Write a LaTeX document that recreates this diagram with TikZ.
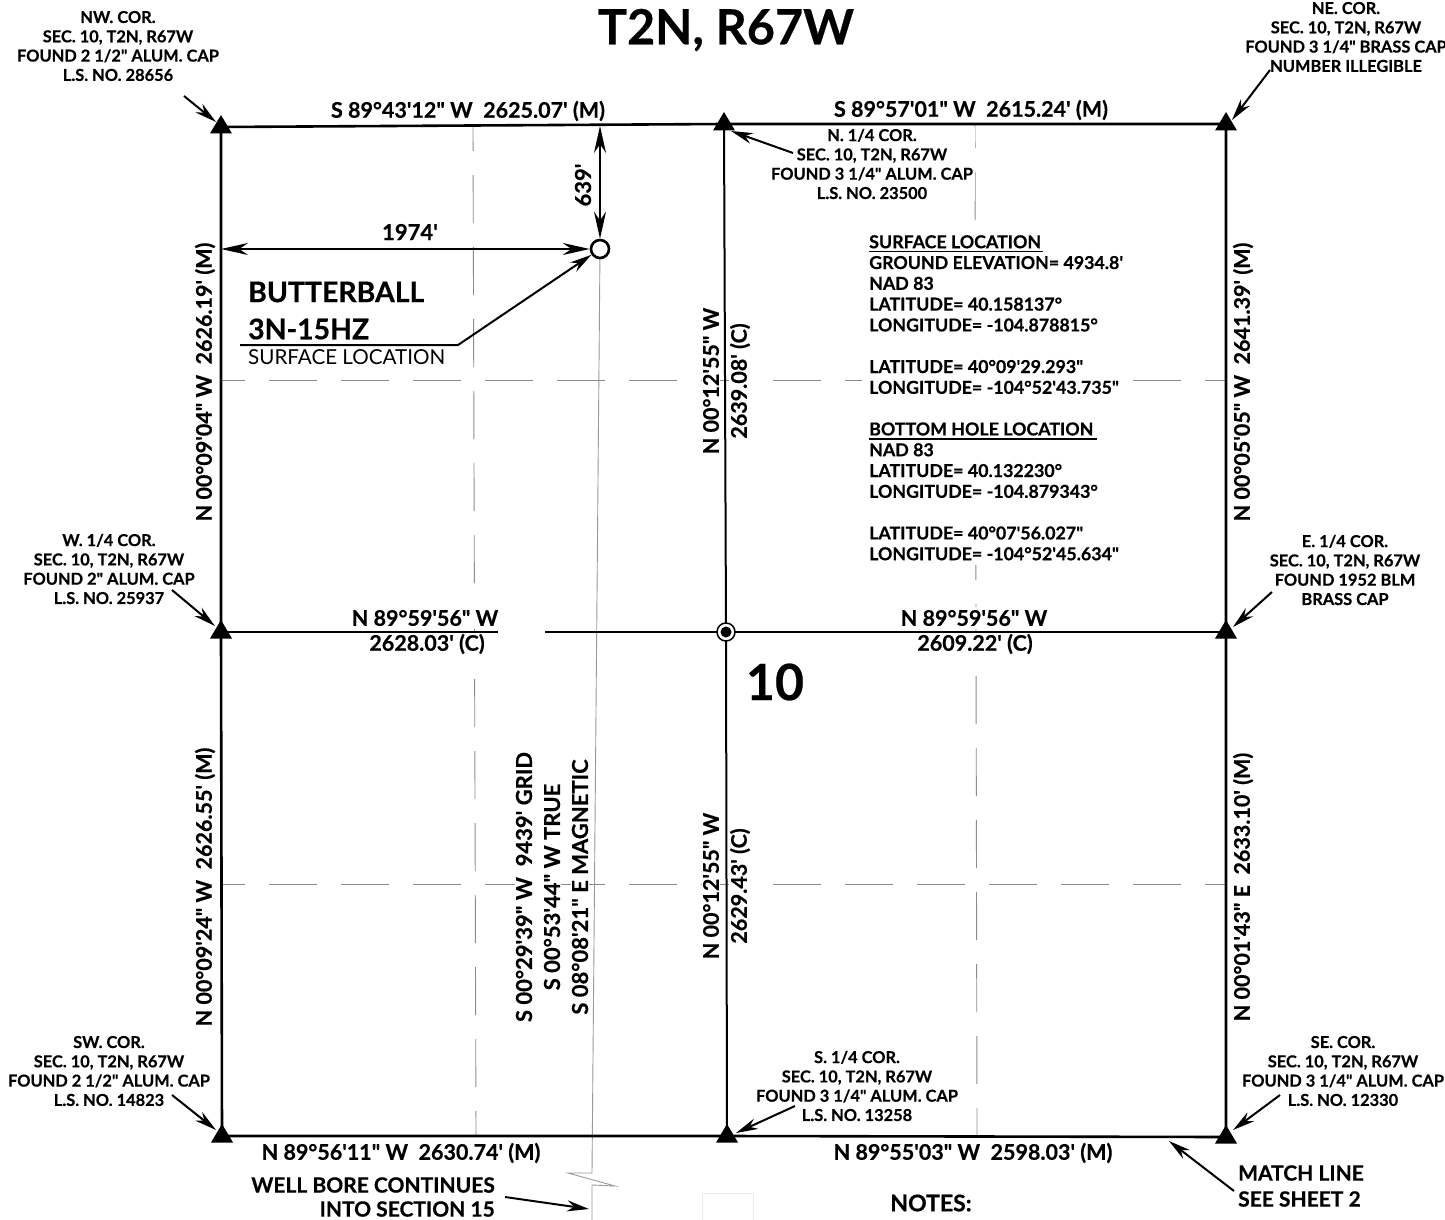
\documentclass[tikz,border=0pt]{standalone}
\usepackage{fontspec}
\usetikzlibrary{arrows.meta,calc}
\newfontfamily\labf{Lato}[BoldFont={Lato Bold},BoldFeatures={FakeBold=0.45}]
\tikzset{
  base/.style={inner sep=1pt,font=\labf\bfseries},
  corner/.style={base,align=center,fill=white,inner sep=2pt,font=\labf\bfseries\fontsize{16.4}{19.3}\selectfont},
  bearing/.style={base,fill=white,font=\labf\bfseries\fontsize{21.5}{24}\selectfont},
  big/.style={base,font=\labf\bfseries\fontsize{28.4}{30}\selectfont},
  mid/.style={base,font=\labf\bfseries\fontsize{21}{24}\selectfont},
  grayd/.style={draw=black!45,line width=.9pt,dash pattern=on 48pt off 24pt,dash phase=24pt},
  bore/.style={draw=black!40,line width=.9pt},
  boundary/.style={draw=black,line width=2.6pt},
  centerl/.style={draw=black,line width=2pt},
  leader/.style={draw=black,line width=2pt,-{Stealth[length=22pt,width=11pt]}},
  dim/.style={draw=black,line width=2pt,{Stealth[length=27pt,width=12pt]}-{Stealth[length=27pt,width=12pt]}},
  tri/.style={fill=black,draw=none},
}
\newcommand{\mon}[1]{\fill[tri] ($(#1)+(-11,6.5)$) -- ($(#1)+(11,6.5)$) -- ($(#1)+(0,-12)$) -- cycle;}
\begin{document}
\begin{tikzpicture}[x=1pt,y=-1pt]
\useasboundingbox (0,0) rectangle (1445,1220);
\fill[white] (0,0) rectangle (1445,1220);
% corners
\coordinate (nw) at (221,127); \coordinate (n) at (724,124); \coordinate (ne) at (1226,124);
\coordinate (w) at (221,632); \coordinate (c) at (726,632); \coordinate (e) at (1226,632);
\coordinate (sw) at (222,1136); \coordinate (s) at (727,1136); \coordinate (se) at (1226,1137);
% section subdivision lines
\coordinate (qnw) at (473,127); \coordinate (qsw) at (476,1136);
\coordinate (qne) at (975,124); \coordinate (qse) at (977,1137);
\coordinate (h1a) at (221,380); \coordinate (h1b) at (1226,380);
\coordinate (h2a) at (221,884); \coordinate (h2b) at (1226,884);
\draw[grayd] (qnw) -- (qsw);
\draw[grayd] (qne) -- (qse);
\draw[grayd] (h1a) -- (h1b);
\draw[grayd] (h2a) -- (h2b);
% well bore
\coordinate (wb) at (600,249);
\coordinate (z1) at (592,1173); \coordinate (z2) at (568,1173); \coordinate (z3) at (615,1186);
\coordinate (z4) at (592,1185); \coordinate (z5) at (592,1220);
\draw[bore] (wb) -- (z1) -- (z2) -- (z3) -- (z4) -- (z5);
% faint sheet box
\draw[black!8,line width=.6pt] (702,1220) |- (753,1193) -- (753,1220);
% labels
\node[bearing,inner sep=3pt] (tn) at (425,618) {N 89°59'56" W};
\node[bearing,inner sep=3pt] (tn2) at (427,644) {2628.03' (C)};
\node[bearing,inner sep=3pt] (tn3) at (974,618) {N 89°59'56" W};
\node[bearing,inner sep=3pt] (tn4) at (975,644) {2609.22' (C)};
\node[corner] (lnw) at (118,46) {NW. COR.\\SEC. 10, T2N, R67W\\FOUND 2 1/2" ALUM. CAP\\L.S. NO. 28656};
\node[corner] (lne) at (1346,37) {NE. COR.\\SEC. 10, T2N, R67W\\FOUND 3 1/4" BRASS CAP\\NUMBER ILLEGIBLE};
\node[corner] (ln) at (872,164) {N. 1/4 COR.\\SEC. 10, T2N, R67W\\FOUND 3 1/4" ALUM. CAP\\L.S. NO. 23500};
\node[corner] (lw) at (109,569) {W. 1/4 COR.\\SEC. 10, T2N, R67W\\FOUND 2" ALUM. CAP\\L.S. NO. 25937};
\node[corner] (le) at (1345,570) {E. 1/4 COR.\\SEC. 10, T2N, R67W\\FOUND 1952 BLM\\BRASS CAP};
\node[corner] (lsw) at (109,1071) {SW. COR.\\SEC. 10, T2N, R67W\\FOUND 2 1/2" ALUM. CAP\\L.S. NO. 14823};
\node[corner] (ls) at (857,1086) {S. 1/4 COR.\\SEC. 10, T2N, R67W\\FOUND 3 1/4" ALUM. CAP\\L.S. NO. 13258};
\node[corner] (lse) at (1343,1071) {SE. COR.\\SEC. 10, T2N, R67W\\FOUND 3 1/4" ALUM. CAP\\L.S. NO. 12330};
\node[bearing,rotate=90] (b1) at (205,382) {N 00°09'04" W\ \ 2626.19' (M)};
\node[bearing,rotate=90] (b2) at (1243,382) {N 00°05'05" W\ \ 2641.39' (M)};
\node[bearing,rotate=90] (b3) at (205,887) {N 00°09'24" W\ \ 2626.55' (M)};
\node[bearing,rotate=90] (b4) at (1243,887) {N 00°01'43" E\ \ 2633.10' (M)};
\node[bearing,rotate=90] (b5) at (711,381) {N 00°12'55" W};
\node[bearing,rotate=90] (b6) at (740,381) {2639.08' (C)};
\node[bearing,rotate=90] (b7) at (711,886) {N 00°12'55" W};
\node[bearing,rotate=90] (b8) at (740,886) {2629.43' (C)};
\node[bearing] (t1) at (468,111) {S 89°43'12" W\ \ 2625.07' (M)};
\node[bearing] (t2) at (971,110) {S 89°57'01" W\ \ 2615.24' (M)};
\node[bearing,fill=none] (t3) at (401,1153) {N 89°56'11" W\ \ 2630.74' (M)};
\node[bearing,fill=none] (t4) at (973,1153) {N 89°55'03" W\ \ 2598.03' (M)};
\node[bearing,rotate=90,font=\labf\bfseries\fontsize{22}{24}\selectfont] (g1) at (524,887) {S 00°29'39" W\ \ 9439' GRID};
\node[bearing,rotate=90,font=\labf\bfseries\fontsize{22}{24}\selectfont] (g2) at (552,887) {S 00°53'44" W TRUE};
\node[bearing,rotate=90,font=\labf\bfseries\fontsize{22}{24}\selectfont] (g3) at (580,887) {S 08°08'21" E MAGNETIC};
% location box
\node[fill=white,minimum width=268pt,minimum height=333pt,inner sep=0pt] (locbox) at (996,398.5) {};
\node[base,anchor=north west,align=left,inner sep=0pt,font=\labf\bfseries\fontsize{17.8}{20.8}\selectfont] (loc) at (869,235)
{SURFACE LOCATION\\GROUND ELEVATION= 4934.8'\\NAD 83\\LATITUDE= 40.158137°\\LONGITUDE= -104.878815°\\[20.8pt]LATITUDE= 40°09'29.293"\\LONGITUDE= -104°52'43.735"\\[20.8pt]BOTTOM HOLE LOCATION\\NAD 83\\LATITUDE= 40.132230°\\LONGITUDE= -104.879343°\\[20.8pt]LATITUDE= 40°07'56.027"\\LONGITUDE= -104°52'45.634"};
\coordinate (u1a) at (869,251.5); \coordinate (u1b) at (1043,251.5);
\coordinate (u2a) at (869,439); \coordinate (u2b) at (1097,439);
\draw[line width=1.5pt] (u1a) -- (u1b);
\draw[line width=1.5pt] (u2a) -- (u2b);
% well name
\node[fill=white,minimum width=212pt,minimum height=91pt,inner sep=0pt] (wbox) at (346,322.5) {};
\node[big,anchor=west,inner sep=0pt] (wn1) at (248,292) {BUTTERBALL};
\node[big,anchor=west,inner sep=0pt] (wn2) at (248,329) {3N-15HZ};
\node[anchor=west,inner sep=0pt,font=\labf\fontsize{20.6}{24}\selectfont] (wn3) at (248,357) {SURFACE LOCATION};
% boundary
\draw[boundary,line join=miter] (nw) -- (n) -- (ne) -- (e) -- (se) -- (s) -- (sw) -- (w) -- cycle;
\coordinate (ga) at (498,632); \coordinate (gb) at (545,632);
\draw[centerl] (w) -- (ga);
\draw[centerl] (gb) -- (c) -- (e);
\draw[centerl] (n) -- (c) -- (s);
% monuments
\mon{nw}\mon{n}\mon{ne}\mon{w}\mon{e}\mon{sw}\mon{s}\mon{se}
\node[circle,draw=black,fill=white,line width=1.5pt,minimum size=18pt,inner sep=0pt] (cm) at (c) {};
\fill (c) circle (5.5pt);
\node[circle,draw=black,fill=white,line width=2.6pt,minimum size=18pt,inner sep=0pt] (well) at (wb) {};
% leaders
\coordinate (a1) at (184,96); \coordinate (a1t) at (216,122); \draw[leader] (a1) -- (a1t);
\coordinate (a2) at (1270,70); \coordinate (a2t) at (1232,120); \draw[leader] (a2) -- (a2t);
\coordinate (a3) at (793,153); \coordinate (a3t) at (731,131); \draw[leader] (a3) -- (a3t);
\coordinate (a4) at (172,590); \coordinate (a4t) at (215,626); \draw[leader] (a4) -- (a4t);
\coordinate (a5) at (1272,592); \coordinate (a5t) at (1233,627); \draw[leader] (a5) -- (a5t);
\coordinate (a6) at (172,1095); \coordinate (a6t) at (216,1130); \draw[leader] (a6) -- (a6t);
\coordinate (a7) at (1280,1095); \coordinate (a7t) at (1233,1130); \draw[leader] (a7) -- (a7t);
\coordinate (a8) at (795,1106); \coordinate (a8t) at (736,1133); \draw[leader] (a8) -- (a8t);
\coordinate (a9) at (1234,1191); \coordinate (a9t) at (1169,1141); \draw[leader] (a9) -- (a9t);
\coordinate (a10) at (505,1197); \coordinate (a10t) at (589,1209); \draw[leader] (a10) -- (a10t);
\coordinate (a11) at (240,345); \coordinate (a11m) at (458,345);
\draw[leader] (a11) -- (a11m) -- (well);
\draw[dim] (w |- wb) -- (well);
\coordinate (wtop) at (600,126);
\draw[dim] (wtop) -- (well);
% free labels
\node[base,font=\labf\bfseries\fontsize{48.5}{52}\selectfont] (title) at (726,30) {T2N, R67W};
\node[base,font=\labf\bfseries\fontsize{50}{55}\selectfont] (ten) at (775,682) {10};
\node[bearing,fill=none,font=\labf\bfseries\fontsize{22}{24}\selectfont] (d1) at (410,232) {1974'};
\node[bearing,fill=none,rotate=90,font=\labf\bfseries\fontsize{22}{24}\selectfont] (d2) at (583,185) {639'};
\node[mid,anchor=east] (wc1) at (496,1185) {WELL BORE CONTINUES};
\node[mid,anchor=east] (wc2) at (496,1209) {INTO SECTION 15};
\node[mid,anchor=west] (m1) at (1237,1173) {MATCH LINE};
\node[mid,anchor=west] (m2) at (1237,1199) {SEE SHEET 2};
\node[mid,font=\labf\bfseries\fontsize{23}{24}\selectfont] (notes) at (931,1203) {NOTES:};
\end{tikzpicture}
\end{document}
